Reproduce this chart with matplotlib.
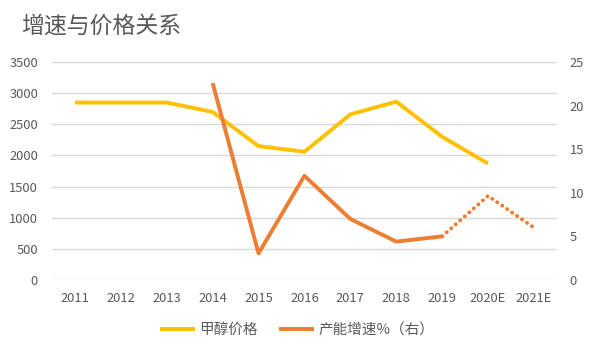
import matplotlib
matplotlib.use("Agg")
import matplotlib.pyplot as plt
import numpy as np

plt.rcParams['font.family'] = ['Noto Sans CJK SC', 'DejaVu Sans']

years = ["2011", "2012", "2013", "2014", "2015", "2016", "2017", "2018", "2019", "2020E", "2021E"]
price = [2850, 2850, 2850, 2700, 2150, 2060, 2660, 2865, 2300, 1870, np.nan]
growth = [np.nan, np.nan, np.nan, 22.6, 3.05, 11.95, 7.0, 4.4, 5.0, np.nan, np.nan]
growth_forecast = [np.nan, np.nan, np.nan, np.nan, np.nan, np.nan, np.nan, np.nan, 5.0, 9.65, 6.0]

price_name = "甲醇价格"
growth_name = "产能增速%（右）"
title = "增速与价格关系"

gray = "#595959"
yellow = "#FFC000"
orange = "#ED7D31"
grid_c = "#D9D9D9"

fig = plt.figure(figsize=(5.94, 3.53), dpi=100)
ax = fig.add_axes([0.0875, 0.207, 0.850, 0.617])
ax2 = ax.twinx()

x = np.arange(len(years))
l1, = ax.plot(x, price, color=yellow, lw=2.8, solid_capstyle='butt', zorder=3)
l2, = ax2.plot(x, growth, color=orange, lw=2.8, solid_capstyle='butt', zorder=3)
ax2.plot(x, growth_forecast, color=orange, lw=2.8, linestyle=(0, (0.05, 1.5)),
         dash_capstyle='round', zorder=3)

ax.set_xlim(-0.5, len(years) - 0.5)
ax.set_ylim(0, 3500)
ax.set_yticks(np.arange(0, 3501, 500))
ax2.set_ylim(0, 25)
ax2.set_yticks(np.arange(0, 26, 5))
ax.set_xticks(x)
ax.set_xticklabels(years)

ax.grid(axis='y', color=grid_c, lw=1.0, zorder=0)
ax.set_axisbelow(True)
for a in (ax, ax2):
    for s in a.spines.values():
        s.set_visible(False)
    a.tick_params(length=0, colors=gray, labelsize=9.3)
ax.tick_params(axis='y', pad=10)
ax.tick_params(axis='x', pad=8.5)
ax2.tick_params(axis='y', pad=9)

fig.text(0.036, 0.924, title, fontsize=16.5, color=gray, va='center', ha='left')

fig.legend([l1, l2], [price_name, growth_name], loc='center', bbox_to_anchor=(0.5, 0.065),
           ncol=2, frameon=False, fontsize=10.5, labelcolor=gray, handlelength=2.4,
           handletextpad=0.3, columnspacing=1.5)

fig.savefig("out.png", dpi=100)
